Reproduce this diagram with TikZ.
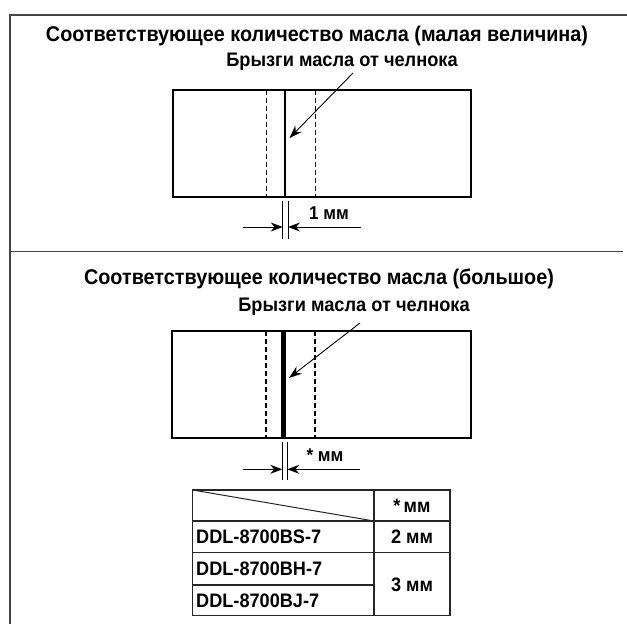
\documentclass[tikz,border=0pt]{standalone}
\usepackage{fontspec}
\setmainfont{Liberation Sans}[FakeStretch=0.93]
\usetikzlibrary{arrows.meta}
\definecolor{frame}{HTML}{444444}
\begin{document}
\begin{tikzpicture}[x=1pt,y=-1pt,
  titletxt/.style={inner sep=0pt,font=\fontsize{21.3}{24}\selectfont\bfseries},
  labtxt/.style={inner sep=0pt,font=\fontsize{19.6}{22}\selectfont\bfseries},
  txt/.style={inner sep=0pt,font=\fontsize{18.5}{22}\selectfont\bfseries},
  ttxt/.style={inner sep=0pt,font=\fontsize{19.5}{22}\selectfont\bfseries},
  framel/.style={draw=frame,line width=1.5pt},
  boxl/.style={draw=black,line width=2pt},
  dashl/.style={draw=black,line width=1.3pt,dash pattern=on 5pt off 3pt},
  leader/.style={draw=black,line width=0.9pt,-{Stealth[length=13pt,width=9pt]}},
  extl/.style={draw=black,line width=0.8pt},
  diml/.style={draw=black,line width=0.9pt,-{Stealth[length=12pt,width=9pt]}},
  tabl/.style={draw=black!85,line width=1.4pt}]
\useasboundingbox (0,0) rectangle (627,624);
% outer frame and divider
\draw[framel] (10,624) -- (10,15) -- (627,15);
\draw[framel] (10,251.5) -- (623,251.5);

% ---------- section 1 ----------
\node[titletxt] (title1) at (317,36) {Соответствующее количество масла (малая величина)};
\node[labtxt] (lab1) at (342,62) {Брызги масла от челнока};
\draw[boxl] (173,90) rectangle (471,197);
\draw[dashl] (266.7,90) -- (266.7,197);
\draw[dashl] (315.7,90) -- (315.7,197);
\draw[black,line width=2.8pt] (285,90) -- (285,197);
\coordinate (a1s) at (353,73);
\coordinate (a1e) at (289.5,138);
\draw[leader] (a1s) -- (a1e);
% dimension 1
\draw[extl] (282.7,201) -- (282.7,239);
\draw[extl] (288,201) -- (288,239);
\coordinate (d1l) at (243,227);
\coordinate (d1lt) at (282.7,227);
\coordinate (d1r) at (361,227);
\coordinate (d1rt) at (288,227);
\draw[diml] (d1l) -- (d1lt);
\draw[diml] (d1r) -- (d1rt);
\node[txt] (dim1) at (329,213) {1 мм};

% ---------- section 2 ----------
\node[titletxt] (title2) at (319,279) {Соответствующее количество масла (большое)};
\node[labtxt] (lab2) at (354,307) {Брызги масла от челнока};
\draw[boxl] (172,331) rectangle (471,438);
\draw[dashl] (266,331) -- (266,438);
\draw[dashl] (315,331) -- (315,438);
\draw[black,line width=5.5pt] (283.7,331) -- (283.7,438);
\coordinate (a2s) at (360,323);
\coordinate (a2e) at (289,378);
\draw[leader] (a2s) -- (a2e);
% dimension 2
\draw[extl] (282.3,442) -- (282.3,480);
\draw[extl] (287.3,442) -- (287.3,480);
\coordinate (d2l) at (243,469.3);
\coordinate (d2lt) at (282.3,469.3);
\coordinate (d2r) at (360,469.3);
\coordinate (d2rt) at (287.3,469.3);
\draw[diml] (d2l) -- (d2lt);
\draw[diml] (d2r) -- (d2rt);
\node[txt] (dim2) at (325,455) {* мм};

% ---------- table ----------
\draw[tabl] (192.7,490) rectangle (450,615.7);
\draw[tabl] (374,490) -- (374,615.7);
\draw[tabl] (192.7,521) -- (450,521);
\draw[tabl] (192.7,552.7) -- (450,552.7);
\draw[tabl] (192.7,585) -- (374,585);
\draw[draw=black!85,line width=1pt] (192.7,490) -- (374,521);
\node[ttxt] (h2) at (412,505.5) {*\,мм};
\node[ttxt,anchor=west] (r1) at (196,537) {DDL-8700BS-7};
\node[ttxt] (v1) at (412,537) {2 мм};
\node[ttxt,anchor=west] (r2) at (196,569) {DDL-8700BH-7};
\node[ttxt,anchor=west] (r3) at (196,600.5) {DDL-8700BJ-7};
\node[ttxt] (v2) at (412,584.3) {3 мм};
\end{tikzpicture}
\end{document}
